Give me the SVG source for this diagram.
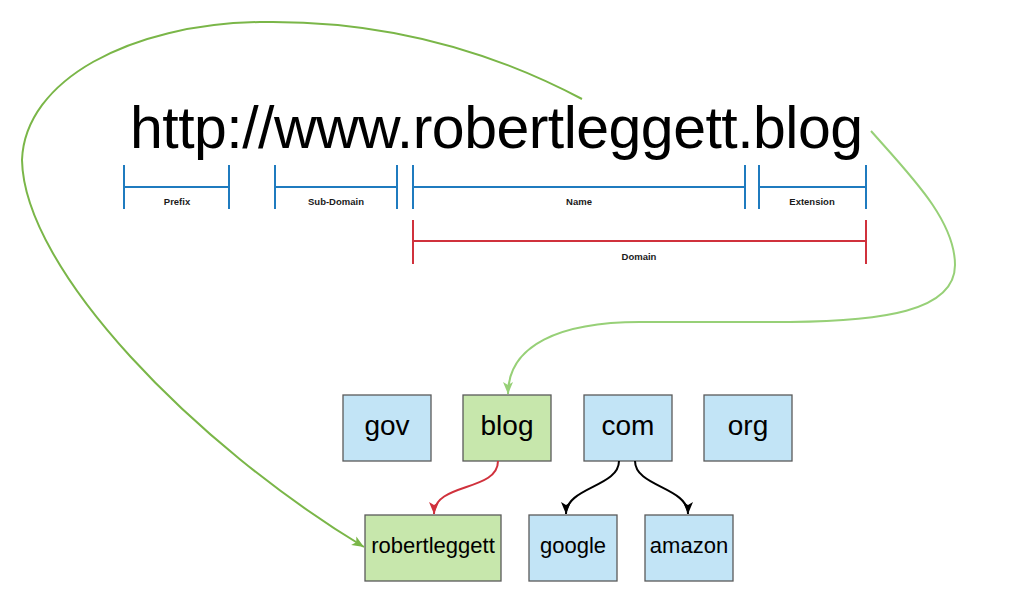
<svg xmlns="http://www.w3.org/2000/svg" width="1024" height="603" viewBox="0 0 1024 603">
<style>
.bl{stroke:#1f7bbf;stroke-width:2;fill:none}
.rd{stroke:#d0313c;stroke-width:2;fill:none}
.lab{font-family:"Liberation Sans",Arial,sans-serif;font-size:9.5px;font-weight:bold;fill:#1a1a1a;text-anchor:middle}
.box{stroke:#5a5a5a;stroke-width:1.3}
.blue{fill:#c2e4f6}
.green{fill:#c7e7ac}
.t1{font-family:"Liberation Sans",Arial,sans-serif;font-size:28px;fill:#000;text-anchor:middle}
.t2{font-family:"Liberation Sans",Arial,sans-serif;font-size:22px;fill:#000;text-anchor:middle}
.c{fill:none;stroke-width:2}
</style>
<defs>
<marker id="aG1" markerUnits="userSpaceOnUse" markerWidth="14" markerHeight="14" viewBox="0 0 14 14" refX="13" refY="7" orient="auto"><path d="M1,2 L13,7 L1,12 L4,7 Z" fill="#7ab648"/></marker>
<marker id="aG2" markerUnits="userSpaceOnUse" markerWidth="14" markerHeight="14" viewBox="0 0 14 14" refX="13" refY="7" orient="auto"><path d="M1,2 L13,7 L1,12 L4,7 Z" fill="#97d077"/></marker>
<marker id="aR" markerUnits="userSpaceOnUse" markerWidth="14" markerHeight="14" viewBox="0 0 14 14" refX="13" refY="7" orient="auto"><path d="M1,2 L13,7 L1,12 L4,7 Z" fill="#d0313c"/></marker>
<marker id="aK" markerUnits="userSpaceOnUse" markerWidth="14" markerHeight="14" viewBox="0 0 14 14" refX="13" refY="7" orient="auto"><path d="M1,2 L13,7 L1,12 L4,7 Z" fill="#000"/></marker>
</defs>
<rect width="1024" height="603" fill="#fff"/>

<g id="url">
<text x="130" y="148" font-family="'Liberation Sans',Arial,sans-serif" font-size="59" fill="#000" textLength="733" lengthAdjust="spacing">http://www.robertleggett.blog</text>
</g>

<g id="prefix">
<path class="bl" d="M124,165 V209 M229,165 V209 M124,187 H229"/>
<text class="lab" x="177" y="205">Prefix</text>
</g>
<g id="subdomain">
<path class="bl" d="M275,165 V209 M397,165 V209 M275,187 H397"/>
<text class="lab" x="336" y="205">Sub-Domain</text>
</g>
<g id="name">
<path class="bl" d="M413,165 V209 M745,165 V209 M413,187 H745"/>
<text class="lab" x="579" y="205">Name</text>
</g>
<g id="extension">
<path class="bl" d="M759,165 V209 M866,165 V209 M759,187 H866"/>
<text class="lab" x="812" y="205">Extension</text>
</g>
<g id="domain">
<path class="rd" d="M413,220 V264 M866,220 V264 M413,241 H866"/>
<text class="lab" x="639" y="260">Domain</text>
</g>

<g id="gov"><rect class="box blue" x="343" y="395" width="88" height="66"/><text class="t1" x="387" y="435">gov</text></g>
<g id="blog"><rect class="box green" x="463" y="395" width="88" height="66"/><text class="t1" x="507" y="435">blog</text></g>
<g id="com"><rect class="box blue" x="584" y="395" width="88" height="66"/><text class="t1" x="628" y="435">com</text></g>
<g id="org"><rect class="box blue" x="704" y="395" width="88" height="66"/><text class="t1" x="748" y="435">org</text></g>
<g id="robertleggett"><rect class="box green" x="365" y="515" width="136" height="66"/><text class="t2" x="433" y="553">robertleggett</text></g>
<g id="google"><rect class="box blue" x="529" y="515" width="88" height="66"/><text class="t2" x="573" y="553">google</text></g>
<g id="amazon"><rect class="box blue" x="645" y="515" width="88" height="66"/><text class="t2" x="689" y="553">amazon</text></g>

<g id="connectors">
<path class="c" stroke="#7ab648" d="M582,99 C480,45 370,20 260,22 C130,24 25,80 22,160 C24,270 195,445 364,547" marker-end="url(#aG1)"/>
<path class="c" stroke="#97d077" d="M871,131 C910,175 955,220 955,265 C955,312 880,321 790,322 L640,322 C560,322 508,345 508,394" marker-end="url(#aG2)"/>
<path class="c" stroke="#d0313c" d="M498,461 C498,492 434,482 434,514" marker-end="url(#aR)"/>
<path class="c" stroke="#000" d="M619,461 C619,487 566,487 566,514" marker-end="url(#aK)"/>
<path class="c" stroke="#000" d="M635,461 C635,487 688,487 688,514" marker-end="url(#aK)"/>
</g>
</svg>
